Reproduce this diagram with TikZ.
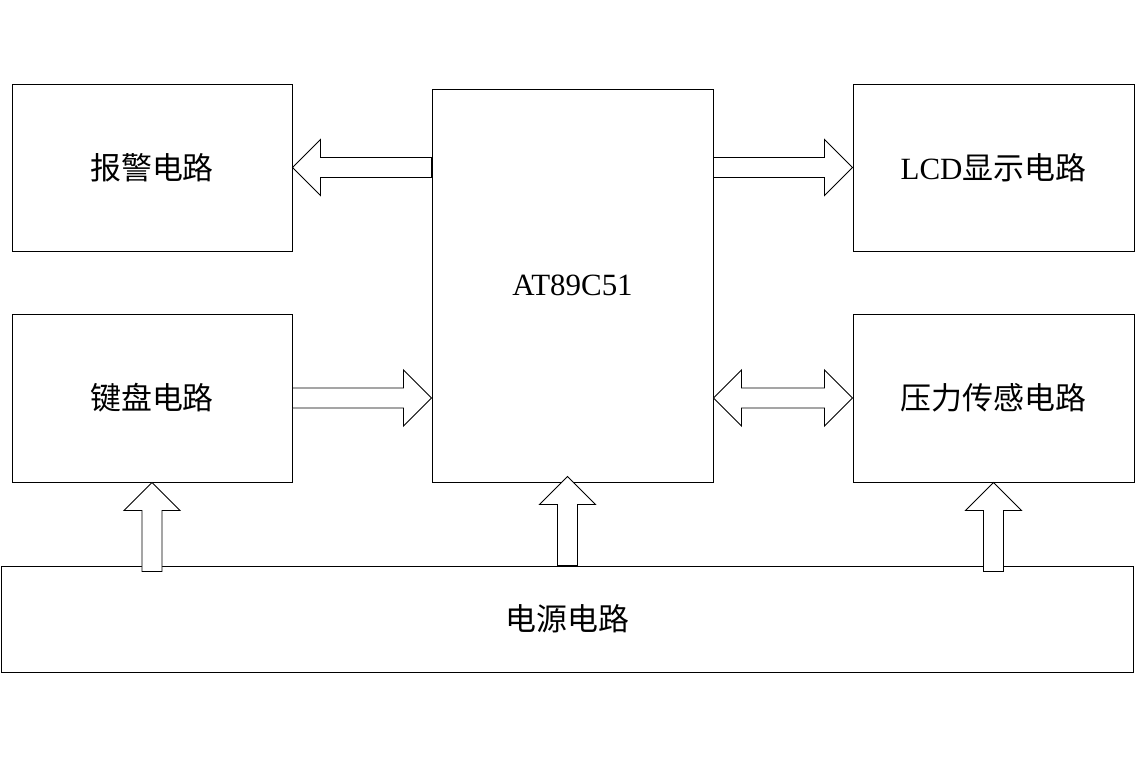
\documentclass[tikz,border=0pt]{standalone}
\usepackage{fontspec}
\setmainfont{Liberation Serif}
\newfontfamily\cjk{Noto Sans CJK SC}
\definecolor{ink}{HTML}{000000}
\usepackage{tikz}
\usetikzlibrary{positioning,calc}
\newcommand\headlen{0.7cm}
\newcommand\headwid{0.7cm}
\newcommand\shaftwid{0.25cm}
% fat outlined arrow from #1 (tail) to #2 (tip)
\newcommand\fatarrow[2]{%
  \path ($(#2)!\headlen!(#1)$) coordinate (hb);
  \draw[fatarrow] ($(#1)!\shaftwid!90:(#2)$) -- ($(hb)!\shaftwid!90:(#2)$)
    -- ($(hb)!\headwid!90:(#2)$) -- (#2) -- ($(hb)!\headwid!-90:(#2)$)
    -- ($(hb)!\shaftwid!-90:(#2)$) -- ($(#1)!\shaftwid!-90:(#2)$) -- cycle;}
% two-headed version
\newcommand\fatdouble[2]{%
  \path ($(#2)!\headlen!(#1)$) coordinate (hb);
  \path ($(#1)!\headlen!(#2)$) coordinate (ha);
  \draw[fatarrow] (#1) -- ($(ha)!\headwid!90:(#2)$) -- ($(ha)!\shaftwid!90:(#2)$)
    -- ($(hb)!\shaftwid!90:(#2)$) -- ($(hb)!\headwid!90:(#2)$) -- (#2)
    -- ($(hb)!\headwid!-90:(#2)$) -- ($(hb)!\shaftwid!-90:(#2)$)
    -- ($(ha)!\shaftwid!-90:(#2)$) -- ($(ha)!\headwid!-90:(#2)$) -- cycle;}
\tikzset{
  block/.style={draw=ink,line width=0.6pt,fill=white,inner sep=0pt,
                font=\fontsize{22}{26}\selectfont,align=center},
  fatarrow/.style={draw=ink,line width=0.6pt,fill=white,line join=miter}
}

\begin{document}
\begin{tikzpicture}[x=0.025cm,y=-0.025cm]
  \useasboundingbox (0,0) rectangle (1135,757);
  % blocks
  \node[block,minimum width=7cm,minimum height=4.175cm] (alarm) at (152,167.5) {\cjk 报警电路};
  \node[block,minimum width=7.025cm,minimum height=4.175cm] (lcd) at (993.5,167.5) {LCD{\cjk 显示电路}};
  \node[block,minimum width=7.025cm,minimum height=9.825cm] (mcu) at (572.5,285.5) {AT89C51};
  \node[block,minimum width=7cm,minimum height=4.2cm] (keys) at (152,398) {\cjk 键盘电路};
  \node[block,minimum width=7.025cm,minimum height=4.2cm] (sensor) at (993.5,398) {\cjk 压力传感电路};
  \node[block,minimum width=28.3cm,minimum height=2.65cm] (power) at (567.5,619) {\cjk 电源电路};

  % connectors
  \coordinate (alarmout) at (mcu.west |- alarm.east);
  \coordinate (lcdout) at (mcu.east |- lcd.west);
  \coordinate (keysin) at (mcu.west |- keys.east);
  \coordinate (sensorio) at (mcu.east |- sensor.west);
  \coordinate (pkeys) at ($(power.north -| keys.south)+(0,6)$);
  \coordinate (psensor) at ($(power.north -| sensor.south)+(0,6)$);
  \coordinate (mcuin) at ($(power.north |- mcu.south)+(0,-6)$);
  \fatarrow{alarmout}{alarm.east}
  \fatarrow{lcdout}{lcd.west}
  \fatarrow{keys.east}{keysin}
  \fatdouble{sensorio}{sensor.west}
  \fatarrow{pkeys}{keys.south}
  \fatarrow{power.north}{mcuin}
  \fatarrow{psensor}{sensor.south}
\end{tikzpicture}
\end{document}
